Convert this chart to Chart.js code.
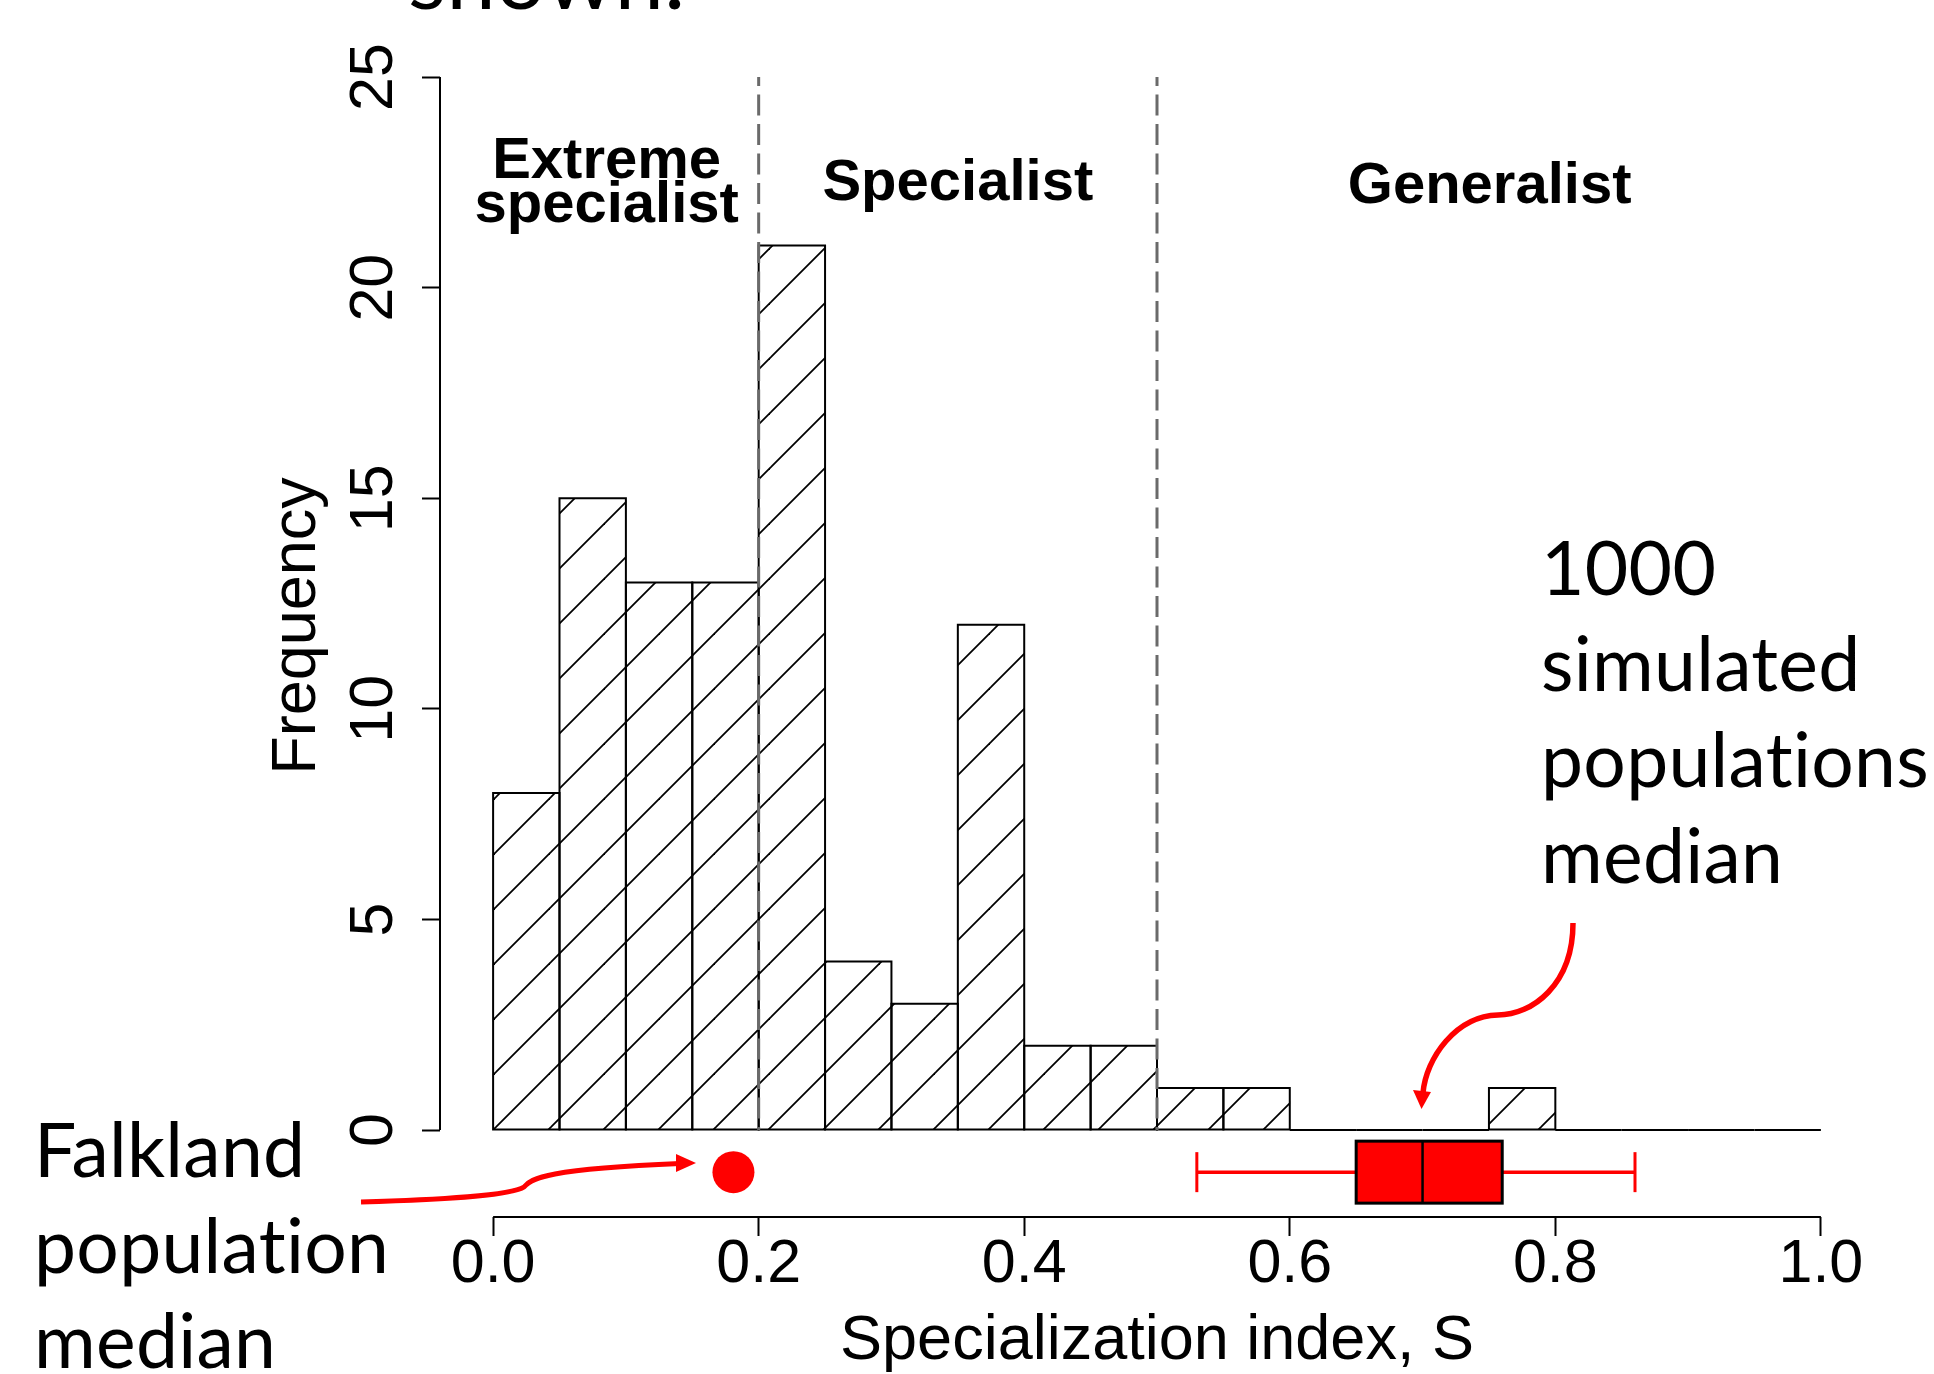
<!DOCTYPE html>
<html>
<head>
<meta charset="utf-8">
<script src="https://cdn.jsdelivr.net/npm/chart.js@4.4.1/dist/chart.umd.min.js"></script>
<style>
html,body{margin:0;padding:0;background:#fff;overflow:hidden}
#wrap{position:relative;width:1934px;height:1374px}
canvas{display:block}
</style>
</head>
<body>
<div id="wrap"><canvas id="c" width="1934" height="1374"></canvas></div>
<script>
// ---------------- data ----------------
const binStarts = [0.00,0.05,0.10,0.15,0.20,0.25,0.30,0.35,0.40,0.45,0.50,0.55,0.60,0.65,0.70,0.75,0.80,0.85,0.90,0.95];
const binWidth = 0.05;
const frequencies = [8,15,13,13,21,4,3,12,2,2,1,1,0,0,0,1,0,0,0,0];
const xTickValues = [0.0,0.2,0.4,0.6,0.8,1.0];
const yTickValues = [0,5,10,15,20,25];
const categoryBounds = [0.2,0.5];
const categoryNames = [["Extreme","specialist"],["Specialist"],["Generalist"]];
const falklandMedian = [0.181];
const simulatedBoxStats = [0.530,0.650,0.700,0.760,0.860]; // min, q1, median, q3, max
const xAxisTitle = "Specialization index, S";
const yAxisTitle = "Frequency";
const falklandNote = ["Falkland","population","median"];
const simulatedNote = ["1000","simulated","populations","median"];
const captionFragment = "shown.";

// ---------------- layout constants ----------------
const summaryRow = -1;          // y-position (in frequency units) of the summary row
const labelPos = [[0.0855,22.60],[0.350,22.08],[0.7505,22.01]];
const AX = '"Liberation Sans", Arial, Helvetica, sans-serif';
const NOTE = 'Lato, "Open Sans", sans-serif';

function makeHatch(){
  const t = document.createElement('canvas');
  t.width = 55; t.height = 55;
  const g = t.getContext('2d');
  g.fillStyle = '#fff'; g.fillRect(0,0,55,55);
  g.strokeStyle = '#000'; g.lineWidth = 1.8;
  for (const c of [-27,28,83,138]) {
    g.beginPath(); g.moveTo(-10,c+10); g.lineTo(65,c-65); g.stroke();
  }
  return g.createPattern(t,'repeat');
}

const overlay = {
  id:'overlay',
  afterDatasetsDraw(chart){
    const {ctx, scales:{x,y}} = chart;
    ctx.save();
    // bar outlines
    ctx.strokeStyle = '#000'; ctx.lineWidth = 2;
    chart.getDatasetMeta(0).data.forEach(b=>{
      const p = b.getProps(['x','y','base','width'], true);
      const l = p.x - p.width/2;
      ctx.beginPath();
      if (Math.abs(p.base - p.y) < 0.5) { ctx.moveTo(l,p.base); ctx.lineTo(l+p.width,p.base); }
      else ctx.rect(l,p.y,p.width,p.base-p.y);
      ctx.stroke();
    });
    // category boundaries
    ctx.strokeStyle = '#6a6a6a'; ctx.lineWidth = 3;
    ctx.setLineDash([21,8.5]); ctx.lineDashOffset = 12;
    categoryBounds.forEach(v=>{
      const px = x.getPixelForValue(v);
      ctx.beginPath(); ctx.moveTo(px,y.getPixelForValue(25)); ctx.lineTo(px,y.getPixelForValue(0)); ctx.stroke();
    });
    ctx.setLineDash([]);
    // box plot of simulated medians
    const yc = y.getPixelForValue(summaryRow);
    const [mn,q1,md,q3,mx] = simulatedBoxStats.map(v=>x.getPixelForValue(v));
    ctx.strokeStyle = '#ff0000'; ctx.lineWidth = 3;
    [mn,mx].forEach(px=>{ ctx.beginPath(); ctx.moveTo(px,yc-20); ctx.lineTo(px,yc+20); ctx.stroke(); });
    ctx.fillStyle = '#ff0000';
    ctx.fillRect(q1,yc-31,q3-q1,62);
    ctx.strokeStyle = '#000'; ctx.lineWidth = 3;
    ctx.strokeRect(q1,yc-31,q3-q1,62);
    ctx.lineWidth = 2.5;
    ctx.beginPath(); ctx.moveTo(md,yc-31); ctx.lineTo(md,yc+31); ctx.stroke();
    ctx.restore();
  },
  afterDraw(chart){
    const {ctx, chartArea, scales:{x,y}} = chart;
    ctx.save();
    // axis lines (R style, spanning the tick range only)
    ctx.strokeStyle = '#000'; ctx.lineWidth = 2;
    ctx.beginPath();
    ctx.moveTo(chartArea.left, y.getPixelForValue(yTickValues[0]));
    ctx.lineTo(chartArea.left, y.getPixelForValue(yTickValues[yTickValues.length-1]));
    ctx.moveTo(x.getPixelForValue(xTickValues[0]), chartArea.bottom);
    ctx.lineTo(x.getPixelForValue(xTickValues[xTickValues.length-1]), chartArea.bottom);
    ctx.stroke();
    // category names
    ctx.fillStyle = '#000';
    ctx.font = 'bold 58px ' + AX;
    ctx.textAlign = 'center'; ctx.textBaseline = 'alphabetic';
    categoryNames.forEach((lines,i)=>{
      const px = x.getPixelForValue(labelPos[i][0]);
      const py = y.getPixelForValue(labelPos[i][1]);
      if (lines.length === 2) {
        ctx.fillText(lines[0], px, py);
        ctx.fillText(lines[1], px, py + 44);
      } else ctx.fillText(lines[0], px, py);
    });
    // red annotation arrows
    ctx.strokeStyle = '#ff0000'; ctx.fillStyle = '#ff0000';
    ctx.lineWidth = 5; ctx.lineCap = 'butt';
    ctx.beginPath();
    ctx.moveTo(361,1202);
    ctx.bezierCurveTo(440,1200,512,1195,524,1187);
    ctx.bezierCurveTo(531,1178,548,1169,680,1163.5);
    ctx.stroke();
    ctx.beginPath(); ctx.moveTo(696,1163); ctx.lineTo(676,1154); ctx.lineTo(676,1172); ctx.closePath(); ctx.fill();

    ctx.lineWidth = 5.5;
    ctx.beginPath();
    ctx.moveTo(1573,923);
    ctx.bezierCurveTo(1573,985,1532,1015,1498,1015);
    ctx.bezierCurveTo(1456,1016,1426,1058,1423,1093);
    ctx.stroke();
    ctx.beginPath(); ctx.moveTo(1421.5,1109); ctx.lineTo(1413,1090); ctx.lineTo(1431,1092); ctx.closePath(); ctx.fill();

    // annotation text (no ligatures, like the original)
    ctx.fillStyle = '#000'; ctx.textAlign = 'left'; ctx.textBaseline = 'alphabetic';
    if ('textRendering' in ctx) ctx.textRendering = 'optimizeSpeed';
    if ('letterSpacing' in ctx) ctx.letterSpacing = '0.3px';
    ctx.font = '75px ' + NOTE;
    falklandNote.forEach((t,i)=> ctx.fillText(t, 34, 1177 + i*95.5));
    simulatedNote.forEach((t,i)=> ctx.fillText(t, 1541, 595 + i*96));
    ctx.font = '88px ' + NOTE;
    ctx.fillText(captionFragment, 408, 9);
    ctx.restore();
  }
};

const chart = new Chart(document.getElementById('c'), {
  type:'bar',
  data:{
    datasets:[
      {
        label:'Frequency',
        data: binStarts.map((s,i)=>({x:s+binWidth/2, y:frequencies[i]})),
        backgroundColor: makeHatch(),
        borderWidth:0,
        barPercentage:1, categoryPercentage:1,
        order:3
      },
      {
        type:'line',
        label:'Simulated whiskers',
        data:[
          {x:simulatedBoxStats[0],y:summaryRow},{x:simulatedBoxStats[1],y:summaryRow},
          {x:simulatedBoxStats[2],y:null},
          {x:simulatedBoxStats[3],y:summaryRow},{x:simulatedBoxStats[4],y:summaryRow}
        ],
        borderColor:'#ff0000', borderWidth:3.5, pointRadius:0, spanGaps:false, fill:false,
        order:2
      },
      {
        type:'scatter',
        label:'Falkland median',
        data: falklandMedian.map(v=>({x:v,y:summaryRow})),
        pointRadius:21, pointBackgroundColor:'#ff0000', pointBorderWidth:0, borderWidth:0,
        order:1
      }
    ]
  },
  options:{
    responsive:false, animation:false, events:[],
    layout:{padding:{left:0,right:60,top:35,bottom:0}},
    plugins:{legend:{display:false}, tooltip:{enabled:false}},
    scales:{
      x:{
        type:'linear', min:-0.04, max:1.04, offset:false,
        afterBuildTicks:s=>{ s.ticks = xTickValues.map(v=>({value:v})); },
        afterFit:s=>{ s.height = 157; s.paddingLeft = 0; s.paddingRight = 0; },
        border:{display:false},
        grid:{display:true, offset:false, drawOnChartArea:false, drawTicks:true, tickLength:19, tickColor:'#000', tickWidth:2},
        ticks:{autoSkip:false, maxRotation:0, minRotation:0, padding:-7, color:'#000',
               font:{family:AX,size:61}, callback:v=>Number(v).toFixed(1)},
        title:{display:true, text:xAxisTitle, color:'#000', font:{family:AX,size:63,lineHeight:1}, padding:{top:0,bottom:1.3}}
      },
      y:{
        type:'linear', min:-2.065, max:26, offset:false,
        afterBuildTicks:s=>{ s.ticks = yTickValues.map(v=>({value:v})); },
        afterFit:s=>{ s.width = 440; s.paddingTop = 0; s.paddingBottom = 0; },
        border:{display:false},
        grid:{display:true, offset:false, drawOnChartArea:false, drawTicks:true, tickLength:18, tickColor:'#000', tickWidth:2},
        ticks:{autoSkip:false, minRotation:90, maxRotation:90, crossAlign:'center', padding:13, color:'#000',
               font:{family:AX,size:61}, callback:v=>String(v)},
        title:{display:true, text:yAxisTitle, color:'#000', font:{family:AX,size:63,lineHeight:1}, padding:{top:266.5,bottom:0}}
      }
    }
  },
  plugins:[overlay]
});
</script>
</body>
</html>
